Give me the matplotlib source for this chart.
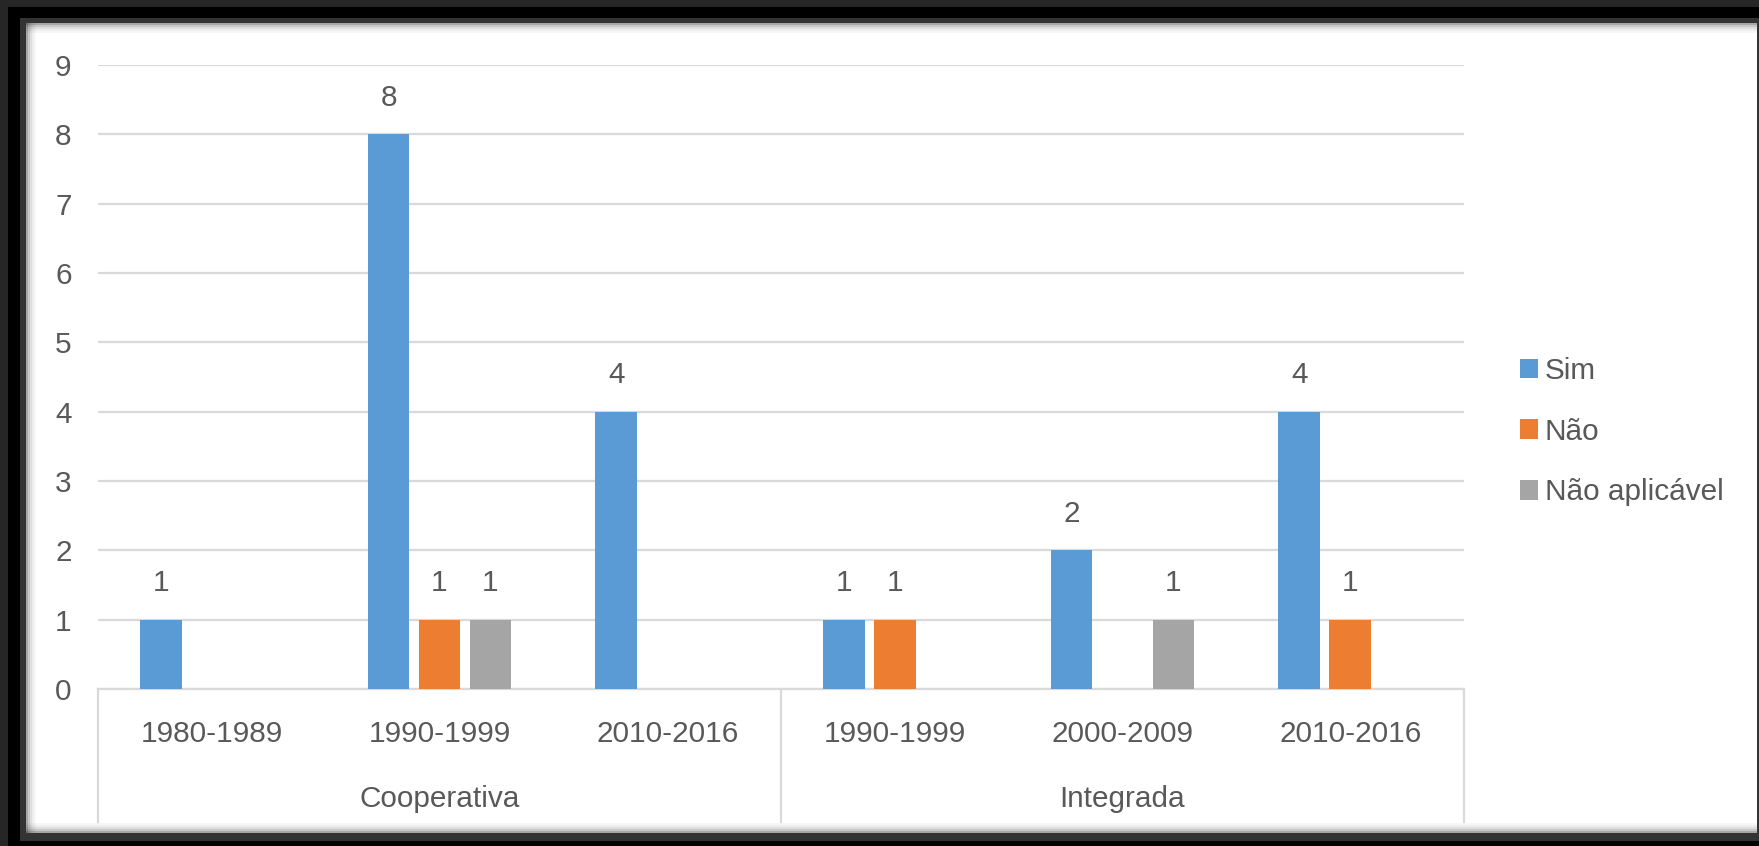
import matplotlib
matplotlib.use("Agg")
import matplotlib.pyplot as plt
from matplotlib import font_manager
from matplotlib.patches import Rectangle
from matplotlib.lines import Line2D
import matplotlib.transforms as mtransforms
import numpy as np

# ---- data -------------------------------------------------------------
groups = ["Cooperativa", "Integrada"]
periods = ["1980-1989", "1990-1999", "2010-2016", "1990-1999", "2000-2009", "2010-2016"]
group_of_period = [0, 0, 0, 1, 1, 1]
series_names = ["Sim", "Não", "Não aplicável"]
sim = [1, 8, 4, 1, 2, 4]
nao = [None, 1, None, 1, None, 1]
nao_aplicavel = [None, 1, None, None, 1, None]
y_ticks = [0, 1, 2, 3, 4, 5, 6, 7, 8, 9]

colors = ["#5B9BD5", "#ED7D31", "#A5A5A5"]
text_color = "#595959"
grid_color = "#D9D9D9"

# ---- font --------------------------------------------------------------
plt.rcParams["font.family"] = ["Liberation Sans", "DejaVu Sans"]
fs = 21.4

W, H = 1759, 846
fig = plt.figure(figsize=(W / 100, H / 100), dpi=100)
fig.patch.set_facecolor("#262626")


def px_rect(x0, y0, x1, y1, color, alpha=1.0):
    fig.patches.append(Rectangle((x0 / W, 1 - y1 / H), (x1 - x0) / W, (y1 - y0) / H,
                                 transform=fig.transFigure, facecolor=color,
                                 edgecolor="none", alpha=alpha, zorder=-10))


# window frame
px_rect(8, 7, W, H, "#000000")
px_rect(20, 18, W, 841, "#333333")
px_rect(26, 23, 1757, 833, "#ffffff")
# soft inner shadow along the frame
for i, a in enumerate([0.35, 0.22, 0.13, 0.07, 0.03]):
    px_rect(26, 23 + 2 * i, 1757, 25 + 2 * i, "#000000", a)
    px_rect(26 + 2 * i, 23, 28 + 2 * i, 833, "#000000", a)
    px_rect(26, 831 - 2 * i, 1757, 833 - 2 * i, "#000000", a)

# ---- axes ---------------------------------------------------------------
x_left, x_right, y_top, y_bot = 98, 1464, 65, 689
ax = fig.add_axes([x_left / W, 1 - y_bot / H, (x_right - x_left) / W, (y_bot - y_top) / H])
ax.set_facecolor("none")

x = np.arange(len(periods))
bar_w = 0.184
step = 0.224
series = [sim, nao, nao_aplicavel]
for k, (vals, name, col) in enumerate(zip(series, series_names, colors)):
    xs = [xi + (k - 1) * step for xi, v in zip(x, vals) if v is not None]
    vs = [v for v in vals if v is not None]
    bars = ax.bar(xs, vs, width=bar_w, color=col, label=name, zorder=3)
    for b, v in zip(bars, vs):
        ax.annotate(str(v), (b.get_x() + b.get_width() / 2, v), xytext=(0, 26.5),
                    textcoords="offset points", ha="center", va="center",
                    fontsize=fs, color=text_color)

ax.set_xlim(-0.5, len(periods) - 0.5)
ax.set_ylim(0, 9)
ax.set_yticks(y_ticks)
ax.yaxis.grid(True, color=grid_color, linewidth=1.6, zorder=0)
ax.set_axisbelow(True)
for s in ["top", "right", "left"]:
    ax.spines[s].set_visible(False)
ax.spines["bottom"].set_color(grid_color)
ax.spines["bottom"].set_linewidth(1.6)
ax.tick_params(axis="y", length=0, pad=19, labelsize=fs, labelcolor=text_color)
ax.set_xticks(x)
ax.set_xticklabels(periods)
ax.tick_params(axis="x", length=0, pad=22, labelsize=fs, labelcolor=text_color)

# group separators and group labels under the period labels
trans = mtransforms.blended_transform_factory(ax.transData, ax.transAxes)
sep_bottom = (y_bot - 822) / (y_bot - y_top)
for xv in [-0.5, 2.5, len(periods) - 0.5]:
    ax.add_line(Line2D([xv, xv], [0, sep_bottom], transform=trans, color=grid_color,
                       linewidth=1.6, clip_on=False))
group_y = (y_bot - 799) / (y_bot - y_top)
for g, name in enumerate(groups):
    idx = [i for i, gg in enumerate(group_of_period) if gg == g]
    ax.text(np.mean(idx), group_y, name, transform=trans, ha="center", va="center",
            fontsize=fs, color=text_color)

# legend
leg = fig.legend(loc="center left", bbox_to_anchor=(1520 / W, 1 - 431.5 / H),
                 frameon=False, fontsize=fs, handlelength=0.61, handleheight=0.61,
                 handletextpad=0.22, labelspacing=1.11, borderpad=0, borderaxespad=0)
for t in leg.get_texts():
    t.set_color(text_color)

fig.savefig("out.png", dpi=100, facecolor=fig.get_facecolor())
